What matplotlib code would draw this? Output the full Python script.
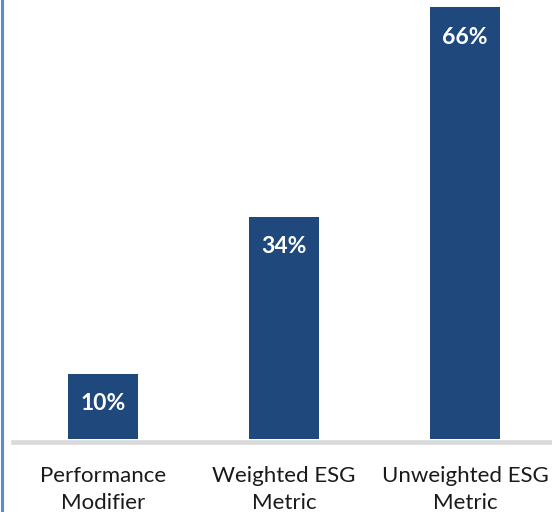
import matplotlib.pyplot as plt
from matplotlib.lines import Line2D

categories = ["Performance\nModifier", "Weighted ESG\nMetric", "Unweighted ESG\nMetric"]
values = [10, 34, 66]
value_labels = ["10%", "34%", "66%"]

plt.rcParams["font.family"] = ["Lato", "DejaVu Sans"]

fig = plt.figure(figsize=(5.52, 5.12), dpi=100)
ax = fig.add_axes([13 / 552, 73 / 512, 539 / 552, 439 / 512])

x = list(range(len(categories)))
bars = ax.bar(x, values, width=0.387, color="#1F497D", zorder=3)

for bar, label in zip(bars, value_labels):
    ax.annotate(
        label,
        (bar.get_x() + bar.get_width() / 2, bar.get_height()),
        xytext=(0, -21.5),
        textcoords="offset points",
        ha="center",
        va="center",
        color="white",
        fontsize=16.5,
        fontweight="bold",
    )

# category labels under the axis
for xi, cat in zip(x, categories):
    ax.annotate(
        cat,
        (xi, 0),
        xycoords=("data", "axes fraction"),
        xytext=(0, -19.5),
        textcoords="offset points",
        ha="center",
        va="top",
        fontsize=16,
        color="#1a1a1a",
        linespacing=1.43,
        annotation_clip=False,
    )

ax.set_xlim(-0.497, 2.48)
ax.set_ylim(0, 67.1)
ax.set_xticks([])
ax.set_yticks([])

for side in ["top", "right", "left"]:
    ax.spines[side].set_visible(False)
ax.spines["bottom"].set_color("#D9D9D9")
ax.spines["bottom"].set_linewidth(3.3)
ax.spines["bottom"].set_position(("outward", 2.2))

# blue border line on the left edge
fig.add_artist(Line2D([1.5 / 552, 1.5 / 552], [0, 1], transform=fig.transFigure,
                      color="#5B8BD0", linewidth=2.2))

fig.savefig("out.png", dpi=100)
